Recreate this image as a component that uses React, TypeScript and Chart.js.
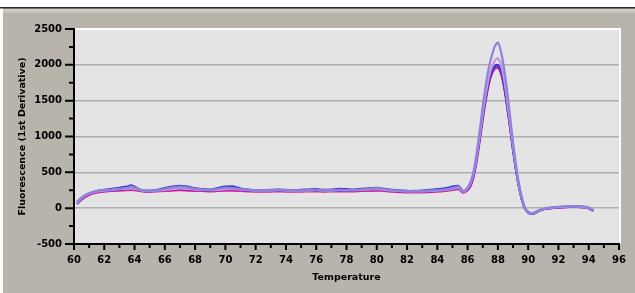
import React, { useEffect, useRef } from "react";
import { Chart, registerables } from "chart.js";

Chart.register(...registerables);

// Temperature (°C) sample points
const temps = [
  60.2, 60.5, 61, 61.5, 62, 62.5, 63, 63.5, 63.8, 64.2,
  64.5, 65, 65.5, 66, 66.5, 67, 67.5, 68, 68.5, 69,
  69.5, 70, 70.5, 71, 71.5, 72, 72.5, 73, 73.5, 74,
  74.5, 75, 75.5, 76, 76.5, 77, 77.5, 78, 78.5, 79,
  79.5, 80, 80.5, 81, 81.5, 82, 82.5, 83, 83.5, 84,
  84.5, 85, 85.4, 85.7, 86.0, 86.2, 86.4, 86.6, 86.8, 87.0,
  87.2, 87.4, 87.6, 87.8, 88.0, 88.2, 88.4, 88.6, 88.8, 89.0,
  89.2, 89.4, 89.6, 89.8, 90.0, 90.2, 90.4, 90.7, 91.0, 91.5,
  92, 92.5, 93, 93.5, 94, 94.3,
];

// Fluorescence (1st derivative) per sample
const seriesLavender = [
  90, 150, 210, 240, 250, 260, 270, 285, 300, 270,
  250, 240, 250, 270, 290, 300, 290, 270, 260, 255,
  270, 285, 280, 265, 255, 250, 245, 250, 255, 250,
  245, 245, 250, 255, 245, 250, 255, 250, 255, 260,
  270, 280, 265, 250, 245, 240, 235, 240, 245, 250,
  260, 280, 300, 240, 290, 370, 520, 770, 1080, 1420,
  1720, 1960, 2130, 2260, 2310, 2190, 1960, 1660, 1290, 920,
  600, 330, 130, 0, -50, -70, -60, -30, -5, 10,
  20, 25, 30, 25, 10, -30,
];
const seriesPink = [
  70, 140, 200, 230, 245, 255, 265, 270, 275, 260,
  245, 240, 245, 255, 265, 275, 270, 260, 255, 250,
  255, 265, 270, 260, 250, 245, 245, 245, 250, 245,
  240, 245, 245, 250, 245, 245, 250, 250, 250, 255,
  260, 265, 255, 245, 240, 235, 235, 235, 240, 245,
  255, 270, 285, 230, 275, 350, 490, 720, 1010, 1320,
  1600, 1820, 1970, 2060, 2090, 2010, 1810, 1530, 1190, 860,
  560, 310, 120, -5, -55, -75, -65, -35, -10, 5,
  15, 20, 25, 20, 5, -35,
];
const seriesBlue = [
  60, 130, 200, 240, 255, 270, 285, 300, 320, 275,
  250, 245, 255, 280, 300, 310, 300, 280, 265, 260,
  280, 300, 305, 275, 260, 250, 250, 255, 260, 255,
  250, 255, 260, 265, 255, 260, 270, 265, 260, 270,
  275, 285, 270, 255, 250, 240, 240, 245, 255, 265,
  275, 300, 310, 235, 270, 340, 470, 700, 980, 1280,
  1550, 1770, 1910, 1985, 2000, 1920, 1730, 1460, 1150, 830,
  540, 300, 110, -10, -60, -80, -70, -40, -15, 0,
  10, 20, 20, 25, 0, -35,
];
const seriesPurple = [
  80, 140, 195, 225, 240, 250, 255, 265, 275, 255,
  240, 235, 245, 255, 260, 265, 260, 255, 250, 245,
  250, 260, 265, 255, 245, 240, 240, 245, 245, 240,
  240, 240, 245, 245, 240, 245, 245, 245, 250, 250,
  255, 260, 250, 240, 235, 230, 230, 230, 235, 240,
  250, 265, 280, 225, 265, 335, 470, 700, 980, 1270,
  1540, 1760, 1900, 1975, 1990, 1910, 1720, 1450, 1140, 820,
  530, 290, 110, -10, -60, -80, -70, -40, -15, 0,
  10, 15, 20, 15, 0, -40,
];
const seriesMagenta = [
  60, 120, 185, 215, 230, 240, 245, 250, 255, 245,
  235, 230, 235, 240, 245, 250, 245, 240, 240, 235,
  240, 245, 245, 240, 235, 230, 230, 230, 235, 230,
  230, 230, 235, 235, 230, 235, 235, 235, 235, 240,
  240, 245, 240, 230, 225, 220, 220, 220, 225, 230,
  240, 255, 265, 215, 250, 310, 440, 660, 940, 1240,
  1510, 1730, 1870, 1945, 1960, 1880, 1700, 1440, 1130, 820,
  530, 290, 110, -10, -60, -80, -70, -40, -15, 0,
  10, 15, 20, 15, 0, -40,
];

const seriesList = [seriesLavender, seriesPink, seriesBlue, seriesPurple, seriesMagenta];
const seriesColors = ["#8c84dc", "#cc94d8", "#3c3cd4", "#7a22c0", "#e0209a"];

const xMin = 60;
const xMax = 96;
const yMin = -500;
const yMax = 2500;
const xTitle = "Temperature";
const yTitle = "Fluorescence (1st Derivative)";

const frame = {
  id: "frame",
  beforeDraw(chart: any) {
    const { ctx, width, height, chartArea } = chart;
    ctx.save();
    ctx.fillStyle = "#b8b4ac";
    ctx.fillRect(0, 0, width, height);
    ctx.fillStyle = "#ffffff";
    ctx.fillRect(0, 0, width, 7);
    ctx.fillRect(0, 0, 3, height);
    ctx.fillStyle = "#2a2a2a";
    ctx.fillRect(0, 7, width, 1.5);
    ctx.fillStyle = "#d2cfc8";
    ctx.fillRect(3, 9, width - 3, 2);
    ctx.fillStyle = "#c6c3bb";
    ctx.fillRect(3, 11, width - 3, 2);
    const { left, top, right, bottom } = chartArea;
    ctx.fillStyle = "#e4e4e4";
    ctx.fillRect(left, top, right - left, bottom - top);
    ctx.strokeStyle = "#ffffff";
    ctx.lineWidth = 2;
    ctx.beginPath();
    ctx.moveTo(left, top);
    ctx.lineTo(right + 1, top);
    ctx.lineTo(right + 1, bottom);
    ctx.stroke();
    ctx.restore();
  },
  afterDraw(chart: any) {
    const { ctx, chartArea, scales } = chart;
    ctx.save();
    ctx.strokeStyle = "#000";
    ctx.lineWidth = 2;
    ctx.beginPath();
    for (const t of scales.y.ticks) {
      const y = scales.y.getPixelForValue(t.value);
      const len = t.value % 500 === 0 ? 9 : 5;
      ctx.moveTo(chartArea.left - len, y);
      ctx.lineTo(chartArea.left, y);
    }
    for (const t of scales.x.ticks) {
      const x = scales.x.getPixelForValue(t.value);
      const len = t.value % 2 === 0 ? 6 : 4;
      ctx.moveTo(x, chartArea.bottom);
      ctx.lineTo(x, chartArea.bottom + len);
    }
    ctx.stroke();
    ctx.restore();
  },
};

export default function App() {
  const ref = useRef<HTMLCanvasElement>(null);
  useEffect(() => {
    if (!ref.current) return;
    const tickFont = { family: "'DejaVu Sans', sans-serif", size: 10, weight: "bold" as const };
    const titleFont = { family: "'DejaVu Sans', sans-serif", size: 9.5, weight: "bold" as const };
    const chart = new Chart(ref.current, {
      type: "line",
      data: {
        datasets: seriesList.map((vals, i) => ({
          data: temps.map((t, j) => ({ x: t, y: vals[j] })),
          borderColor: seriesColors[i],
          backgroundColor: seriesColors[i],
          borderWidth: 2.2,
          pointRadius: 0,
          tension: 0.25,
          fill: false,
        })),
      },
      options: {
        animation: false,
        responsive: false,
        maintainAspectRatio: false,
        layout: { padding: { left: 0, right: 16, top: 29, bottom: 0 } },
        plugins: { legend: { display: false }, tooltip: { enabled: false } },
        scales: {
          x: {
            type: "linear",
            min: xMin,
            max: xMax,
            ticks: {
              stepSize: 1,
              autoSkip: false,
              maxRotation: 0,
              color: "#000",
              font: tickFont,
              padding: 4,
              callback: (v: any) => (Number(v) % 2 === 0 ? String(v) : ""),
            },
            grid: { drawOnChartArea: false, tickLength: 6, tickColor: "rgba(0,0,0,0)" },
            border: { display: true, color: "#000", width: 2 },
            title: {
              display: true,
              text: xTitle,
              color: "#000",
              font: titleFont,
              padding: { top: 0, bottom: 10 },
            },
            afterFit: (s: any) => {
              s.height = 49;
            },
          },
          y: {
            type: "linear",
            min: yMin,
            max: yMax,
            ticks: {
              stepSize: 250,
              color: "#000",
              font: tickFont,
              padding: 3,
              callback: (v: any) => (Number(v) % 500 === 0 ? String(v) : ""),
            },
            grid: {
              tickLength: 9,
              tickColor: "rgba(0,0,0,0)",
              lineWidth: 1.5,
              color: (c: any) => {
                const v = c.tick ? c.tick.value : NaN;
                return v % 500 === 0 && v > yMin && v < yMax ? "#aeaeae" : "rgba(0,0,0,0)";
              },
            },
            border: { display: true, color: "#000", width: 2 },
            title: {
              display: true,
              text: yTitle,
              color: "#000",
              font: titleFont,
              padding: { top: 17, bottom: 0 },
            },
            afterFit: (s: any) => {
              s.width = 74;
            },
          },
        },
      },
      plugins: [frame],
    });
    return () => chart.destroy();
  }, []);
  return (
    <div style={{ position: "absolute", left: 0, top: 0, width: 635, height: 293 }}>
      <canvas ref={ref} width={635} height={293} style={{ display: "block" }} />
    </div>
  );
}
